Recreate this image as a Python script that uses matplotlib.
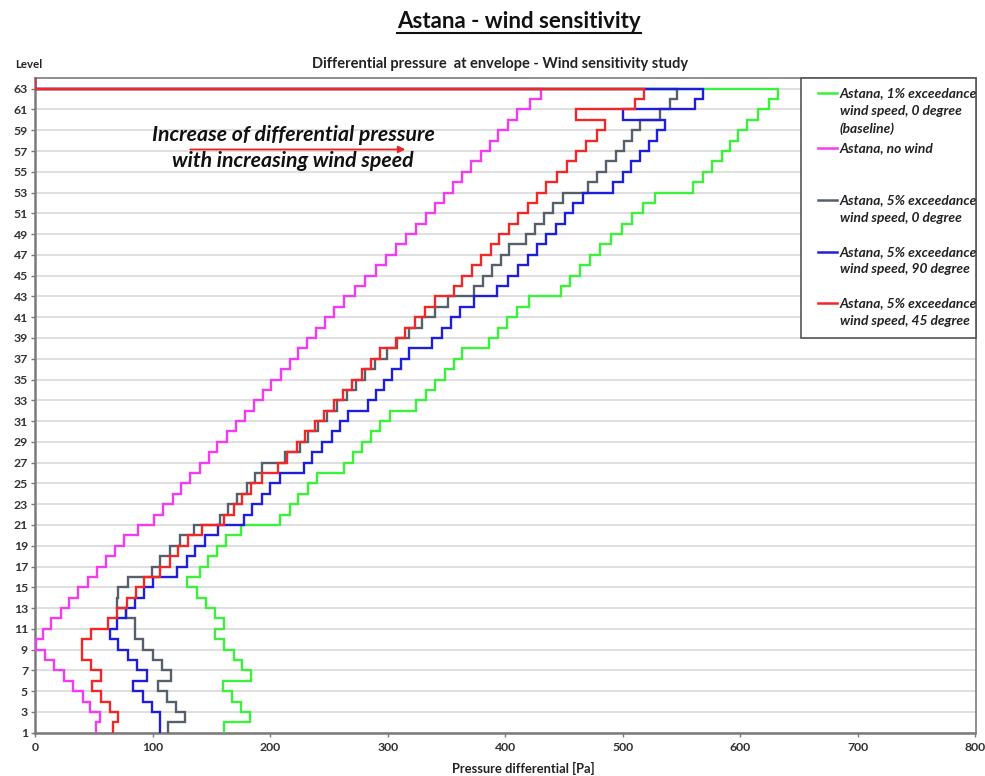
import numpy as np
import matplotlib
matplotlib.use("Agg")
import matplotlib.pyplot as plt
from matplotlib.lines import Line2D
from matplotlib.patches import Rectangle

plt.rcParams['font.family'] = ['Lato', 'DejaVu Sans']

# ---------------- data ----------------
level_edges = list(range(1, 65))          # floors 1..63 -> edges 1..64
y_ticks = list(range(1, 64, 2))
x_ticks = list(range(0, 801, 100))

labels = [
    "Astana, 1% exceedance\nwind speed, 0 degree\n(baseline)",
    "Astana, no wind",
    "Astana, 5% exceedance\nwind speed, 0 degree",
    "Astana, 5% exceedance\nwind speed, 90 degree",
    "Astana, 5% exceedance\nwind speed, 45 degree",
]
colors = ["#3CF03C", "#F23CF2", "#56606C", "#1E1EDC", "#F22828"]

green_1pct_0deg = [161, 183, 175, 167.5, 160, 184, 176.5, 169, 161, 153,
                   161, 153, 145.5, 137.5, 129.5, 140, 147.5, 155, 162.5, 175.5,
                   208.5, 216.5, 224, 232, 239.5, 262.5, 270.5, 278, 286, 293.5,
                   302, 324.5, 333, 340.5, 348.5, 356, 363.5, 386, 394, 401.5,
                   410, 420.5, 447, 455.5, 464, 472, 481, 490, 499, 508,
                   517, 527.5, 560, 568, 576, 584, 591, 598, 606, 615,
                   624.5, 632, 0]

magenta_no_wind = [52, 55, 47, 40.5, 32.5, 24.5, 16.5, 8.5, 0.5, 6.5,
                   14, 22, 29, 37, 45, 52.5, 60.5, 68, 76, 88,
                   101, 109, 117, 124, 132, 140, 148, 155, 163, 171,
                   179, 186, 194, 201, 209, 216.5, 223.5, 231, 239, 247,
                   254.5, 263, 272, 281, 290, 298.5, 307, 316, 324.5, 333,
                   340.5, 348, 355.5, 363, 371, 379, 387, 394, 402, 410,
                   421, 430, 0]

gray_5pct_0deg = [113.5, 127.5, 120, 112, 105, 115.5, 108, 100.5, 92, 85,
                  85, 77.5, 70, 70.5, 79, 99.5, 106.5, 115, 123, 135,
                  157.5, 164.5, 172, 180, 187, 193, 213, 225, 232.5, 240.5,
                  248, 257, 265, 273, 281, 289, 299, 308, 318, 329,
                  340.5, 351, 373, 381, 388.5, 396, 403, 418, 425.5, 433,
                  441, 449, 470, 478, 486, 494, 501, 508, 515, 532,
                  540, 546, 0]

blue_5pct_90deg = [106.5, 106.5, 99.5, 92, 83.5, 95, 86.5, 79, 71, 63.5,
                   70, 77.5, 85, 93, 100.5, 120.5, 129, 136, 144.5, 156,
                   177.5, 184.5, 193, 200, 208.5, 228.5, 235.5, 244, 252.5, 259.5,
                   266, 283.5, 290, 297, 304, 311, 318, 338, 346, 354,
                   361.5, 373, 393, 402, 410.5, 419, 427, 435, 443, 450.5,
                   458, 466, 492, 500.5, 507, 515, 522, 529, 535.5, 500,
                   561.5, 568, 0]

red_5pct_45deg = [66.5, 71, 63.5, 56, 48.5, 56, 47.5, 40, 40, 47.5,
                  62.5, 70, 78, 85.5, 92.5, 106.5, 114.5, 122, 130, 142,
                  161, 169, 176, 183.5, 193, 207, 214, 222.5, 230, 238,
                  245.5, 254, 262, 270, 278, 285.5, 293.5, 307, 315, 323.5,
                  332, 340.5, 356, 363, 371.5, 379.5, 387.5, 395, 403, 411,
                  419, 427, 435, 444, 452.5, 460, 468.5, 478, 485, 460.5,
                  510, 518, 0]

series = [green_1pct_0deg, magenta_no_wind, gray_5pct_0deg,
          blue_5pct_90deg, red_5pct_45deg]

# ---------------- figure ----------------
W, H = 985, 776
fig = plt.figure(figsize=(W / 100, H / 100), dpi=100)


def fx(px):
    return px / W


def fy(py):
    return 1 - py / H


ax = fig.add_axes([fx(35), fy(732.7), fx(975.5) - fx(35), fy(78.3) - fy(732.7)])
for vals, col in zip(series, colors):
    ax.stairs(vals, level_edges, orientation='horizontal', baseline=None,
              color=col, lw=1.7, zorder=3)

ax.set_xlim(0, 800)
ax.set_ylim(1, 64)
ax.set_xticks(x_ticks)
ax.set_yticks(y_ticks)
ax.grid(axis='y', color='#dcdcdc', lw=1.3, zorder=0)
ax.set_axisbelow(True)
for side in ['left', 'bottom']:
    ax.spines[side].set_color('#7a7a7a')
    ax.spines[side].set_linewidth(1.8)
for side in ['top', 'right']:
    ax.spines[side].set_color('#7a7a7a')
    ax.spines[side].set_linewidth(1.2)
ax.tick_params(axis='both', length=3, width=1, color='#7a7a7a',
               labelsize=8.8, labelcolor='#333333')
ax.tick_params(axis='y', pad=2)
for lab in ax.get_xticklabels() + ax.get_yticklabels():
    lab.set_fontweight('bold')

# axis texts
fig.text(fx(523), fy(768), "Pressure differential [Pa]", ha='center', va='center',
         fontsize=9.3, fontweight='bold', color='#222222')
fig.text(fx(15), fy(64), "Level", ha='left', va='center',
         fontsize=8.3, fontweight='bold', color='#222222')
fig.text(fx(500), fy(64), "Differential pressure  at envelope - Wind sensitivity study",
         ha='center', va='center', fontsize=10.5, fontweight='bold', color='#222222')

title = fig.text(fx(519), fy(21), "Astana - wind sensitivity", ha='center', va='center',
                 fontsize=16, fontweight='bold', color='#111111')

# annotation arrow + text (data coordinates)
ax.annotate('', xy=(315, 57.15), xytext=(132, 57.15),
            arrowprops=dict(arrowstyle='-|>', color='#ee2222', lw=1.3,
                            mutation_scale=10, shrinkA=0, shrinkB=0), zorder=5)
ax.text(219.6, 58.5, "Increase of differential pressure", ha='center', va='center',
        fontsize=15.3, fontweight='bold', fontstyle='italic', color='#111111', zorder=5)
ax.text(219.6, 56.05, "with increasing wind speed", ha='center', va='center',
        fontsize=15.3, fontweight='bold', fontstyle='italic', color='#111111', zorder=5)

# legend box (manual)
lx0, lx1, ly0, ly1 = 800.7, 975.5, 78.3, 338
fig.add_artist(Rectangle((fx(lx0), fy(ly1)), fx(lx1) - fx(lx0), fy(ly0) - fy(ly1),
                         transform=fig.transFigure, facecolor='white',
                         edgecolor='#555555', lw=1.2, zorder=4))
entry_y = [93.3, 148.3, 200, 251.7, 303.3]
line_gap = 17.6
for lab, col, yy in zip(labels, colors, entry_y):
    fig.add_artist(Line2D([fx(818), fx(837)], [fy(yy), fy(yy)], color=col, lw=1.8,
                          transform=fig.transFigure, zorder=5))
    for i, part in enumerate(lab.split("\n")):
        fig.text(fx(839.5), fy(yy + i * line_gap), part, ha='left', va='center',
                 fontsize=9.9, fontweight='bold', fontstyle='italic',
                 color='#222222', zorder=6)

# underline the title
fig.canvas.draw()
bb = title.get_window_extent()
uy = (bb.y0 - 1.5) / H
fig.add_artist(Line2D([bb.x0 / W, bb.x1 / W], [uy, uy], color='#111111', lw=1.5,
                      transform=fig.transFigure))

fig.savefig("out.png", dpi=100)
